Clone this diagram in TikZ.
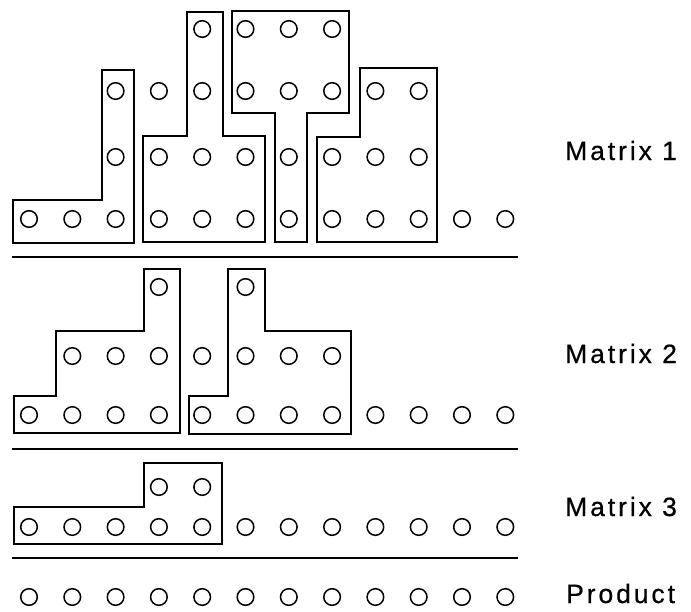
\documentclass[tikz,border=0pt]{standalone}
\usepackage{fontspec}
\usepackage{tikz}
\newfontfamily\labelfont{Liberation Sans}[LetterSpace=11,FakeBold=0.6]

\begin{document}
\begin{tikzpicture}[x=1pt,y=-1pt,
  block/.style={line width=1.7pt,line join=miter},
  hole/.style={line width=1.5pt},
  rule/.style={line width=1.6pt},
  tag/.style={anchor=base west,inner sep=0pt,font=\labelfont\fontsize{26.5}{30}\selectfont}]
\useasboundingbox (0,0) rectangle (691,611);
% holes, row by row: y / first column / last column
\foreach \r/\a/\b in {29/4/7, 91/2/9, 157/2/9, 219/0/11, 356/1/7, 415/0/11, 527/0/11, 597/0/11}
  \foreach \i in {\a,...,\b}
    \draw[hole] (29+43.3*\i,\r) circle (8.3);
\draw[hole] (158.9,287) circle (8.3);
\draw[hole] (245.5,287) circle (8.3);
\draw[hole] (158.9,487) circle (8.3);
\draw[hole] (202.2,487) circle (8.3);
% Matrix 1
\draw[block] (13,243) -- (13,200) -- (102,200) -- (102,70) -- (134,70) -- (134,243) -- cycle;
\draw[block] (143,242) -- (143,136) -- (187,136) -- (187,12) -- (223,12) -- (223,136) -- (265,136) -- (265,242) -- cycle;
\draw[block] (232,11) -- (349,11) -- (349,113) -- (307,113) -- (307,242) -- (275,242) -- (275,113) -- (232,113) -- cycle;
\draw[block] (317,242) -- (317,137) -- (360,137) -- (360,68) -- (437,68) -- (437,242) -- cycle;
\draw[rule] (12,257) -- (518,257);
% Matrix 2
\draw[block] (14,433) -- (14,396) -- (56,396) -- (56,331) -- (144,331) -- (144,269) -- (180,269) -- (180,433) -- cycle;
\draw[block] (189,434) -- (189,396) -- (228,396) -- (228,269) -- (265,269) -- (265,331) -- (351,331) -- (351,434) -- cycle;
\draw[rule] (12,449) -- (518,449);
% Matrix 3
\draw[block] (14,544) -- (14,507) -- (144,507) -- (144,463) -- (222,463) -- (222,544) -- cycle;
\draw[rule] (12,558) -- (518,558);
\node[tag] (m1) at (565,160) {Matrix 1};
\node[tag] (m2) at (565,363) {Matrix 2};
\node[tag] (m3) at (565,516) {Matrix 3};
\node[tag] (prod) at (566,603) {Product};
\end{tikzpicture}
\end{document}
